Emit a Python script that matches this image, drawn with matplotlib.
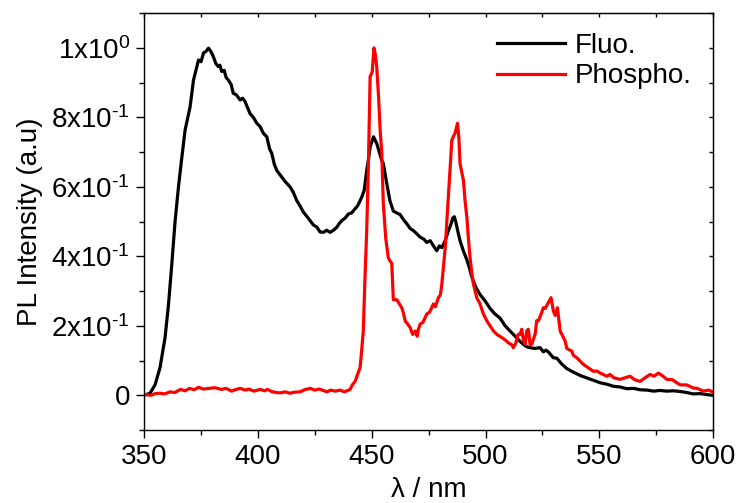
import numpy as np
import matplotlib
matplotlib.use("Agg")
import matplotlib.pyplot as plt
from matplotlib.ticker import MultipleLocator, FixedLocator

# ── 데이터 ─────────────────────────────────────────
fluo_x = [350, 352.6, 354.8, 357, 359.2, 360.7, 362.2, 363.6, 365.1, 366.6, 368, 370.2, 371.7,
          373.9, 375, 376.1, 377.2, 378.3, 379.3, 380.4, 381.5, 382.6, 383.3, 384.1, 385.2, 386,
          387, 388.2, 389.2, 390.5, 392.2, 393.3, 394.4, 395.3, 396.6, 398, 399.5, 401, 402.4,
          403.9, 405.1, 406.1, 407.2, 408.3, 410.5, 412, 414.1, 415.5, 417.1, 418.5, 420, 421.5,
          422.9, 424.4, 425.9, 427.3, 428.8, 430.2, 431.7, 433.2, 434.7, 435.8, 436.9, 438.3,
          439.8, 441.2, 442.7, 443.8, 444.9, 445.9, 446.7, 447.8, 448.6, 449.3, 450.8, 452.2,
          453.3, 454.4, 455.1, 456.6, 458, 459.5, 461, 462.5, 464, 465.4, 466.9, 468.3, 469.8,
          471.3, 472.8, 474.2, 475.7, 477.1, 478.6, 479.7, 480.8, 482.3, 483.7, 484.7, 485.6,
          486.3, 486.9, 487.9, 488.8, 490.3, 491.8, 493, 494, 495.8, 497.6, 500, 502, 504, 506.4,
          508.6, 510.8, 513, 515.2, 516.6, 518, 519.6, 521.7, 524, 525.4, 526.5, 527.6, 529.8,
          531.3, 533.5, 535.7, 538.5, 541.6, 544.5, 547.4, 550.4, 553.3, 556.2, 559.1, 562.1,
          565, 567.9, 571, 573.8, 576.7, 579.6, 582.5, 585.5, 588.4, 591.3, 594.3, 597.2, 600]
fluo_y = [0.0, 0.006, 0.03, 0.08, 0.166, 0.26, 0.38, 0.50, 0.60, 0.686, 0.763, 0.83, 0.907,
          0.965, 0.96, 0.985, 0.99, 0.999, 0.99, 0.975, 0.955, 0.946, 0.95, 0.932, 0.935, 0.915,
          0.907, 0.895, 0.869, 0.865, 0.85, 0.855, 0.845, 0.83, 0.81, 0.80, 0.783, 0.773, 0.754,
          0.744, 0.71, 0.696, 0.665, 0.647, 0.628, 0.615, 0.60, 0.585, 0.56, 0.545, 0.527, 0.515,
          0.503, 0.49, 0.484, 0.47, 0.469, 0.475, 0.469, 0.475, 0.484, 0.495, 0.503, 0.51,
          0.522, 0.525, 0.537, 0.545, 0.56, 0.575, 0.59, 0.647, 0.68, 0.715, 0.744, 0.725,
          0.70, 0.676, 0.667, 0.61, 0.56, 0.53, 0.525, 0.52, 0.505, 0.494, 0.48, 0.474, 0.465,
          0.455, 0.45, 0.44, 0.445, 0.43, 0.416, 0.43, 0.425, 0.445, 0.474, 0.49, 0.51,
          0.514, 0.50, 0.47, 0.445, 0.415, 0.39, 0.365, 0.34, 0.31, 0.29, 0.27, 0.25, 0.235, 0.222,
          0.2, 0.185, 0.17, 0.155, 0.147, 0.14, 0.137, 0.135, 0.137, 0.125, 0.13, 0.125, 0.108,
          0.107, 0.09, 0.077, 0.067, 0.057, 0.05, 0.043, 0.036, 0.032, 0.026, 0.024, 0.019,
          0.02, 0.016, 0.015, 0.012, 0.014, 0.012, 0.013, 0.011, 0.008, 0.004, 0.005, 0.002, 0.0]

phos_x = [350, 353, 355, 357, 359, 361.4, 363.5, 366, 368, 370, 372, 373.9, 376, 378.8, 381, 384,
          386, 388.5, 390, 392.2, 394.5, 396, 398.3, 401, 403, 404.2, 406, 408, 409.8, 412, 414,
          416, 418.5, 420.5, 423, 425, 427, 430.3, 432, 434, 436.1, 438, 440.5, 441.5, 442.7,
          443.8, 444.9, 445.6, 446.3, 447, 447.8, 448.5, 449.3, 450.2, 451, 451.6, 452.2, 453,
          453.7, 454.4, 455.1, 456.2, 457.3, 458.2, 458.8, 459.5, 461, 462, 463.2, 464, 464.7,
          465.8, 466.9, 468, 469.1, 470, 470.5, 471.3, 472.5, 474.2, 475.5, 477.1, 478, 479.3,
          480.2, 480.8, 481.5, 482.3, 483, 483.7, 484.5, 485.2, 485.9, 486.6, 487.2, 487.7,
          488.3, 488.8, 489.6, 490.3, 491, 491.8, 492.5, 493.2, 494, 494.7, 496.2, 497.6, 499,
          500.6, 502, 503.5, 505, 507.2, 508.5, 510.1, 511.6, 512.2, 513.3, 514.4, 515.2, 515.9,
          516.6, 517.4, 518.1, 518.8, 519.6, 520.3, 521.8, 522.5, 523.2, 524.5, 525.4, 526.2,
          527.6, 528.8, 529.8, 530.6, 531.6, 532.8, 535, 535.7, 537.9, 538.6, 540.1, 543, 545,
          547.4, 548.9, 550.4, 553.3, 554.7, 556.5, 559.1, 561, 563.5, 565.5, 567.9, 570, 572.3,
          574, 576, 578, 579.6, 582, 585.5, 588.4, 591.3, 593, 595.7, 598, 600]
phos_y = [0.003, 0.0, 0.005, 0.006, 0.004, 0.01, 0.008, 0.017, 0.013, 0.02, 0.016, 0.023, 0.018,
          0.02, 0.022, 0.017, 0.02, 0.012, 0.016, 0.02, 0.015, 0.018, 0.012, 0.017, 0.013, 0.017,
          0.011, 0.008, 0.007, 0.01, 0.006, 0.009, 0.01, 0.016, 0.02, 0.015, 0.018, 0.01, 0.015,
          0.012, 0.015, 0.01, 0.017, 0.03, 0.04, 0.06, 0.08, 0.13, 0.185, 0.33, 0.474, 0.65,
          0.917, 0.93, 1.0, 0.98, 0.946, 0.86, 0.763, 0.70, 0.55, 0.45, 0.395, 0.385, 0.38,
          0.275, 0.275, 0.265, 0.252, 0.235, 0.214, 0.205, 0.195, 0.175, 0.185, 0.17, 0.19,
          0.205, 0.21, 0.234, 0.24, 0.263, 0.255, 0.281, 0.29, 0.32, 0.37, 0.425, 0.50, 0.57,
          0.66, 0.734, 0.745, 0.754, 0.77, 0.783, 0.74, 0.667, 0.64, 0.618, 0.56, 0.512, 0.45,
          0.397, 0.35, 0.32, 0.28, 0.263, 0.235, 0.214, 0.2, 0.185, 0.175, 0.166, 0.16, 0.151,
          0.145, 0.137, 0.15, 0.176, 0.175, 0.19, 0.16, 0.147, 0.185, 0.19, 0.145, 0.147, 0.176,
          0.215, 0.214, 0.235, 0.252, 0.25, 0.267, 0.281, 0.243, 0.23, 0.252, 0.185, 0.156,
          0.135, 0.127, 0.115, 0.108, 0.089, 0.08, 0.069, 0.07, 0.064, 0.055, 0.06, 0.05, 0.046,
          0.05, 0.055, 0.045, 0.04, 0.05, 0.06, 0.055, 0.064, 0.055, 0.046, 0.045, 0.03, 0.03,
          0.021, 0.02, 0.012, 0.015, 0.009]

ytick_vals = [0, 0.2, 0.4, 0.6, 0.8, 1.0]
ytick_labels = ["0", r"$\mathregular{2x10^{\text{-}1}}$", r"$\mathregular{4x10^{\text{-}1}}$",
                r"$\mathregular{6x10^{\text{-}1}}$", r"$\mathregular{8x10^{\text{-}1}}$",
                r"$\mathregular{1x10^{0}}$"]
xtick_vals = [350, 400, 450, 500, 550, 600]

# ── 스타일 ───────────────────────────────────────────────
plt.rcParams["font.family"] = ["Liberation Sans", "DejaVu Sans"]
plt.rcParams["mathtext.fontset"] = "custom"
plt.rcParams["mathtext.rm"] = "Liberation Sans"
FS = 20

fig = plt.figure(figsize=(7.39, 5.03), dpi=100)
ax = fig.add_axes([0.195, 0.145, 0.770, 0.829])

ax.plot(fluo_x, fluo_y, color="black", lw=2.3, label="Fluo.")
ax.plot(phos_x, phos_y, color="#ff0000", lw=2.3, label="Phospho.")

ax.set_xlim(350, 600)
ax.set_ylim(-0.1, 1.1)

# 아래/왼쪽: 바깥 눈금 + 라벨
ax.xaxis.set_major_locator(FixedLocator(xtick_vals))
ax.xaxis.set_minor_locator(MultipleLocator(25))
ax.set_yticks(ytick_vals)
ax.set_yticklabels(ytick_labels)
ax.yaxis.set_minor_locator(MultipleLocator(0.1))
ax.tick_params(which="major", direction="out", length=6, width=1.0,
               labelsize=FS, pad=4)
ax.tick_params(which="minor", direction="out", length=3.5, width=1.0)

# 위/오른쪽: 안쪽 짧은 눈금
top = ax.secondary_xaxis("top")
top.xaxis.set_major_locator(MultipleLocator(25))
top.tick_params(direction="in", length=3, width=1.0, labeltop=False)
right = ax.secondary_yaxis("right")
right.yaxis.set_major_locator(MultipleLocator(0.1))
right.tick_params(direction="in", length=3, width=1.0, labelright=False)

for s in ax.spines.values():
    s.set_linewidth(1.0)

ax.set_xlabel("λ / nm", fontsize=FS, labelpad=5)
ax.set_ylabel("PL Intensity (a.u)", fontsize=FS, labelpad=6)

ax.legend(loc="upper left", bbox_to_anchor=(0.62, 0.952), frameon=False,
          fontsize=FS, handlelength=2.45, handletextpad=0.35, labelspacing=0.15,
          borderpad=0, borderaxespad=0)

fig.savefig("out.png", dpi=100)
